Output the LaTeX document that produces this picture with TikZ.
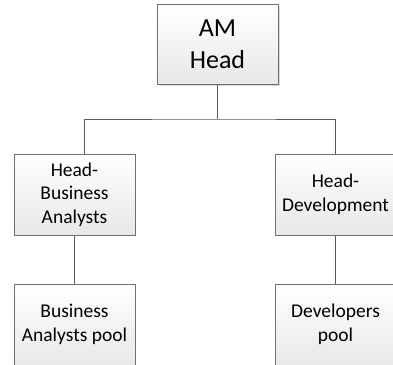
\documentclass[tikz,border=0pt]{standalone}
\usepackage{fontspec}
\setmainfont{Carlito}
\usetikzlibrary{shadings}
\definecolor{boxline}{HTML}{707070}
\definecolor{boxbottom}{HTML}{E8E8E8}
\definecolor{wire}{HTML}{5A5A5A}
\begin{document}
\begin{tikzpicture}[x=1pt,y=-1pt,
  orgbox/.style={draw=boxline, line width=1pt, top color=white, bottom color=boxbottom,
    minimum width=121pt, align=center, inner sep=0pt, text=black},
  topbox/.style={orgbox, minimum height=80pt, font=\fontsize{26}{32}\selectfont},
  unitbox/.style={orgbox, minimum height=81pt, font=\fontsize{19.5}{23.5}\selectfont},
  wireline/.style={draw=wire, line width=0.9pt}]
\clip (0,0) rectangle (393,364);
\fill[white] (0,0) rectangle (393,364);
% drop shadow of the head box
\fill[black!15] (159.5,6.5) rectangle (280,86);
\node[topbox] (am) at (217.5,44) {AM\\Head};
\node[unitbox] (hba) at (74.5,194.5) {Head-\\Business\\Analysts};
\node[unitbox] (hdev) at (335.5,194.5) {Head-\\Development};
\node[unitbox] (bap) at (74.5,324.5) {Business\\Analysts pool};
\node[unitbox] (dp) at (335.5,324.5) {Developers\\pool};
\coordinate (bus) at (217.5,119);
% connectors
\draw[wireline] (am.south) -- (bus);
\draw[wireline] ([xshift=9.5pt]hba.north) |- (bus) -| (hdev.north);
\draw[wireline] (hba.south) -- (bap.north);
\draw[wireline] (hdev.south) -- (dp.north);
\end{tikzpicture}
\end{document}
